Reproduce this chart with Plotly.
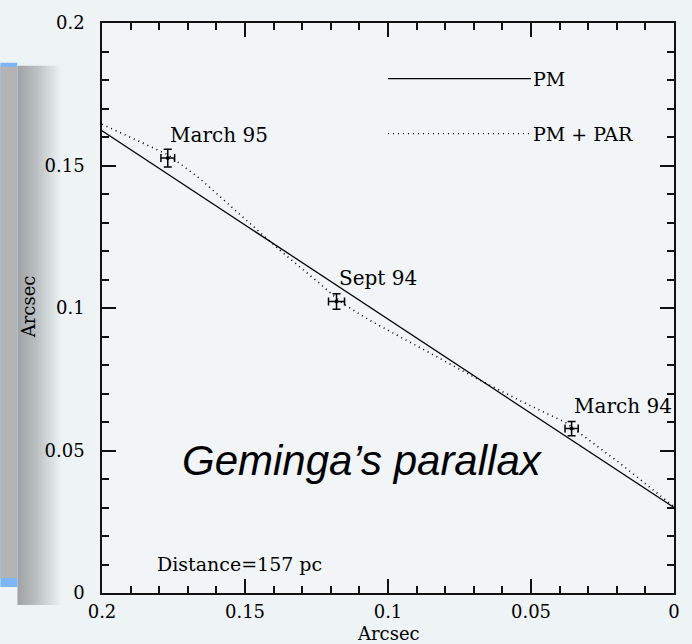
import plotly.graph_objects as go

# observed positions (arcsec)
epochs = ["March 95", "Sept 94", "March 94"]
obs_x = [0.177, 0.118, 0.0358]
obs_y = [0.1526, 0.1023, 0.0577]
err_x = [0.0024, 0.0028, 0.0023]
err_y = [0.0031, 0.0027, 0.0025]

# proper motion only
pm_x = [0.2, 0.0]
pm_y = [0.1622, 0.0300]

# proper motion + parallax
par_x = [0.200, 0.177, 0.1659, 0.1484, 0.1369, 0.1240, 0.1160, 0.1066,
         0.0892, 0.0683, 0.0533, 0.0380, 0.0195, 0.0]
par_y = [0.1645, 0.1538, 0.1455, 0.1296, 0.1195, 0.1087, 0.1017, 0.0958,
         0.0864, 0.0749, 0.0672, 0.0599, 0.0460, 0.0303]

legend_names = ["PM", "PM + PAR"]
legend_y = [0.1805, 0.1612]
legend_x0, legend_x1 = 0.1, 0.05

serif = "DejaVu Serif"
bg = "#eef3f6"

fig = go.Figure()

fig.add_trace(go.Scatter(x=pm_x, y=pm_y, mode="lines",
                         line=dict(color="black", width=1.3), hoverinfo="skip"))
fig.add_trace(go.Scatter(x=par_x, y=par_y, mode="lines",
                         line=dict(color="black", width=1.6, dash="1px,4px"), hoverinfo="skip"))
fig.add_trace(go.Scatter(
    x=obs_x, y=obs_y, mode="markers",
    marker=dict(color="black", size=4),
    error_x=dict(type="data", array=err_x, color="black", thickness=1.5, width=4),
    error_y=dict(type="data", array=err_y, color="black", thickness=1.5, width=4),
))

annotations = []
for name, x, y in zip(epochs, obs_x, obs_y):
    annotations.append(dict(x=x, y=y, text=name, showarrow=False, xanchor="left",
                            yanchor="middle", yshift=23,
                            font=dict(family=serif, size=20, color="black")))

shapes = []
dashes = ["solid", "1px,4px"]
for name, y, d in zip(legend_names, legend_y, dashes):
    shapes.append(dict(type="line", xref="x", yref="y", x0=legend_x0, x1=legend_x1,
                       y0=y, y1=y, line=dict(color="black", width=1.4, dash=d)))
    annotations.append(dict(x=legend_x1, y=y, text=name, showarrow=False, xanchor="left",
                            yanchor="middle", font=dict(family=serif, size=19, color="black")))

annotations.append(dict(x=0.1815, y=0.0101, text="Distance=157 pc", showarrow=False,
                        xanchor="left", yanchor="middle",
                        font=dict(family=serif, size=19, color="black")))
annotations.append(dict(xref="paper", yref="paper", x=(180 - 102) / 574, y=(593 - 460) / 574,
                        text="<i>Geminga’s parallax</i>", showarrow=False,
                        xanchor="left", yanchor="middle",
                        font=dict(family="Liberation Sans", size=42, color="black")))
# axis titles
annotations.append(dict(xref="paper", yref="paper", x=0.5, y=(593 - 634) / 574,
                        text="Arcsec", showarrow=False, xanchor="center", yanchor="middle",
                        font=dict(family=serif, size=18, color="black")))
annotations.append(dict(xref="paper", yref="paper", x=(28 - 102) / 574, y=(593 - 305) / 574,
                        text="Arcsec", showarrow=False, textangle=-90,
                        xanchor="center", yanchor="middle",
                        font=dict(family=serif, size=18, color="black")))

# grey slide panel at the left edge with its soft shadow
for w in range(2, 46, 2):
    shapes.append(dict(type="rect", xref="paper", yref="paper", layer="below",
                       x0=(17 - 102) / 574, x1=(17 + w - 102) / 574,
                       y0=(593 - 605) / 574, y1=(593 - 62) / 574,
                       fillcolor="black", opacity=0.017, line_width=0))
shapes.append(dict(type="rect", xref="paper", yref="paper", layer="below",
                   x0=-102 / 574, x1=(17 - 102) / 574, y0=(593 - 587) / 574, y1=(593 - 59) / 574,
                   fillcolor="#7db6f6", line_width=0))
shapes.append(dict(type="rect", xref="paper", yref="paper", layer="below",
                   x0=-102 / 574, x1=(17 - 102) / 574, y0=(593 - 578) / 574, y1=(593 - 63) / 574,
                   fillcolor="#b4b4b4", line_width=0))

axis_common = dict(
    showgrid=False, zeroline=False, showline=True, linecolor="#111111", linewidth=1.5,
    mirror="ticks", ticks="inside", ticklen=14, tickwidth=1.5, tickcolor="#111111",
    dtick=0.05, tick0=0,
    minor=dict(ticks="inside", ticklen=7, tickwidth=1.5, tickcolor="#111111", dtick=0.01),
    tickfont=dict(family=serif, size=18, color="black"),
)

fig.update_layout(
    width=692, height=644,
    margin=dict(l=102, r=16, t=19, b=51),
    paper_bgcolor=bg, plot_bgcolor="#f1f5f8",
    showlegend=False,
    xaxis=dict(range=[0.2, 0], ticklabelstandoff=2, **axis_common),
    yaxis=dict(range=[0, 0.2], ticklabelstandoff=12, **axis_common),
    shapes=shapes,
    annotations=annotations,
)

fig.write_html("out.html", config={"displayModeBar": False},
               post_script="document.body.style.margin='0';"
                           "document.body.style.background='#eef3f6';")
